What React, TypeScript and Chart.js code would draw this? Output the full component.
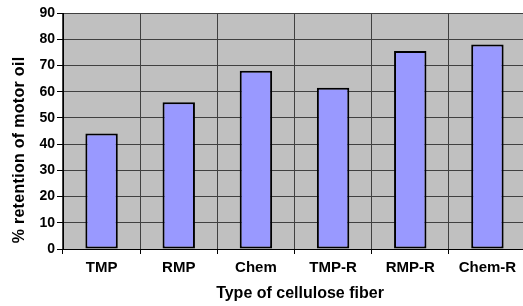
import React, { useEffect, useRef } from "react";
import { Chart, registerables } from "chart.js";

Chart.register(...registerables);

const categories = ["TMP", "RMP", "Chem", "TMP-R", "RMP-R", "Chem-R"];
const retention = [44, 56, 68, 61.5, 75.5, 78];
const yTicks = [0, 10, 20, 30, 40, 50, 60, 70, 80, 90];
const xTitle = "Type of cellulose fiber";
const yTitle = "% retention of motor oil";

const FONT = "'Liberation Sans', Arial, sans-serif";

const plotBg = {
  id: "plotBg",
  beforeDraw(chart: any) {
    const { ctx, chartArea } = chart;
    if (!chartArea) return;
    ctx.save();
    ctx.fillStyle = "#c0c0c0";
    ctx.fillRect(chartArea.left, chartArea.top, chartArea.right - chartArea.left, chartArea.bottom - chartArea.top);
    ctx.restore();
  },
};

const axisTitles = {
  id: "axisTitles",
  afterDraw(chart: any) {
    const { ctx } = chart;
    ctx.save();
    ctx.fillStyle = "#000000";
    ctx.font = `bold 16px ${FONT}`;
    ctx.textAlign = "center";
    ctx.textBaseline = "middle";
    ctx.fillText(xTitle, 300, 294);
    ctx.translate(20, 150);
    ctx.rotate(-Math.PI / 2);
    try {
      (ctx as any).letterSpacing = "0.3px";
    } catch (e) {}
    ctx.fillText(yTitle, 0, 0);
    ctx.restore();
  },
};

export default function App() {
  const ref = useRef<HTMLCanvasElement | null>(null);
  useEffect(() => {
    if (!ref.current) return;
    const chart = new Chart(ref.current, {
      type: "bar",
      data: {
        labels: categories,
        datasets: [
          {
            data: retention,
            backgroundColor: "#9999ff",
            borderColor: "#000000",
            borderWidth: 2,
            borderSkipped: false,
            barPercentage: 0.42,
            categoryPercentage: 1,
          },
        ],
      },
      options: {
        responsive: false,
        animation: false,
        events: [],
        layout: { padding: { top: 13, right: 1, left: 0, bottom: 0 } },
        plugins: { legend: { display: false }, tooltip: { enabled: false } },
        scales: {
          x: {
            grid: {
              offset: true,
              color: "#404040",
              lineWidth: 1,
              tickLength: 5,
              tickColor: "#000000",
            },
            border: { color: "#000000", width: 1 },
            ticks: {
              color: "#000000",
              font: { family: FONT, size: 15, weight: "bold" },
              padding: 5,
              maxRotation: 0,
              autoSkip: false,
            },
            afterFit(scale: any) {
              scale.height = 306 - 249;
            },
          },
          y: {
            min: 0,
            max: 90,
            afterBuildTicks(scale: any) {
              scale.ticks = yTicks.map((v) => ({ value: v }));
            },
            grid: {
              color: "#404040",
              lineWidth: 1,
              tickLength: 6,
              tickColor: "#000000",
            },
            border: { color: "#000000", width: 1 },
            ticks: {
              color: "#000000",
              font: { family: FONT, size: 14, weight: "bold" },
              padding: 2,
            },
            afterFit(scale: any) {
              scale.width = 63;
            },
          },
        },
      },
      plugins: [plotBg, axisTitles],
    });
    return () => chart.destroy();
  }, []);
  return (
    <div
      style={{
        position: "fixed",
        left: 0,
        top: 0,
        width: 523,
        height: 306,
        overflow: "hidden",
        background: "#ffffff",
      }}
    >
      <canvas ref={ref} width={527} height={306} style={{ width: 527, height: 306, display: "block" }} />
    </div>
  );
}
